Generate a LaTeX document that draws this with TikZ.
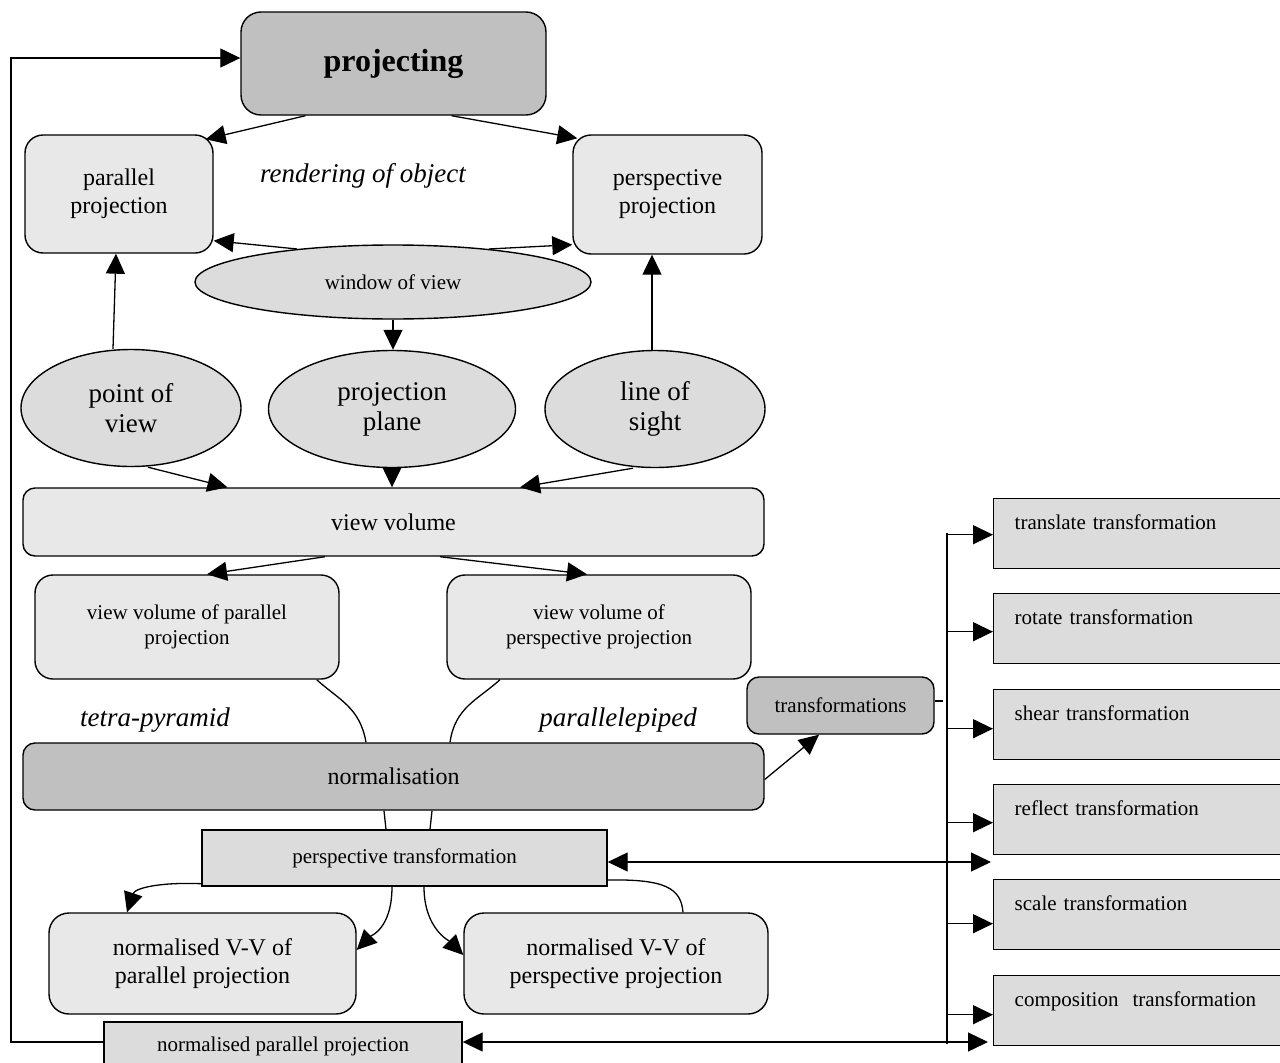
\documentclass[tikz,border=0pt]{standalone}
\usepackage{fontspec}
\setmainfont{Liberation Serif}
\usetikzlibrary{arrows.meta,shapes.geometric,calc}
\definecolor{dk}{HTML}{C0C0C0}
\definecolor{lt}{HTML}{E8E8E8}
\definecolor{md}{HTML}{DCDCDC}
\newcommand\fsa{\fontsize{21}{25}\selectfont}
\newcommand\fsb{\fontsize{24}{28}\selectfont}
\newcommand\fsc{\fontsize{27}{30}\selectfont}
\begin{document}
\begin{tikzpicture}[x=1pt,y=-1pt,
  rbox/.style={draw, line width=1.4pt, rounded corners=18pt, fill=lt, align=center, inner sep=0pt},
  dbox/.style={rbox, fill=dk},
  ebox/.style={ellipse, draw, line width=1.4pt, fill=md, align=center, inner sep=0pt},
  sbox/.style={rectangle, draw, line width=1.4pt, fill=md, align=center, inner sep=0pt},
  tbox/.style={sbox, minimum width=307pt, minimum height=70pt, text width=265pt, inner xsep=21pt, inner ysep=0pt, align=left, text height=15pt, text depth=23pt, anchor=north west, font=\fsa},
  lbl/.style={font=\fsc\itshape, inner sep=0pt},
  ln/.style={line width=1.3pt},
  arr/.style={ln, -{Triangle[length=20pt,width=19pt]}},
  darr/.style={ln, {Triangle[length=20pt,width=19pt]}-{Triangle[length=20pt,width=19pt]}}
]
\useasboundingbox (0,0) rectangle (1280,1063);

% nodes
\node[dbox, rounded corners=20pt, minimum width=305pt, minimum height=103pt, font=\fontsize{32}{36}\selectfont\bfseries] (proj) at (393.5,63.5) {projecting};
\node[rbox, minimum width=188pt, minimum height=118pt, font=\fsb] (par) at (119,194) {parallel\\projection};
\node[rbox, minimum width=189pt, minimum height=119pt, font=\fsb] (persp) at (667.5,194.5) {perspective\\projection};
\node[lbl] (render) at (363,176) {rendering of object};
\node[ebox, minimum width=396pt, minimum height=74pt, font=\fsa] (win) at (393,282) {window of view};
\node[ebox, minimum width=220pt, minimum height=117pt, font=\fsc] (pov) at (131,408) {point of\\view};
\node[ebox, minimum width=247pt, minimum height=117pt, font=\fsc] (plane) at (392,409) {projection\\plane};
\node[ebox, minimum width=220pt, minimum height=117pt, font=\fsc] (los) at (655,409) {line of\\sight};
\node[rbox, rounded corners=12pt, minimum width=741pt, minimum height=68pt, font=\fsb] (vv) at (393.5,522) {view volume};
\node[rbox, minimum width=304pt, minimum height=104pt, font=\fsa] (vvpar) at (187,627) {view volume of parallel\\projection};
\node[rbox, minimum width=304pt, minimum height=104pt, font=\fsa] (vvper) at (599,627) {view volume of\\perspective projection};
\node[lbl] (tetra) at (155,720) {tetra-pyramid};
\node[lbl] (ppd) at (618,720) {parallelepiped};
\node[dbox, rounded corners=12pt, minimum width=741pt, minimum height=67pt, font=\fsb] (norm) at (393.5,776.5) {normalisation};
\node[sbox, minimum width=405pt, minimum height=56pt, font=\fsa] (ptr) at (404.5,858) {perspective transformation};
\node[rbox, rounded corners=20pt, minimum width=307pt, minimum height=101pt, font=\fsb] (nvvpar) at (202.5,963.5) {normalised V-V of\\parallel projection};
\node[rbox, rounded corners=20pt, minimum width=304pt, minimum height=101pt, font=\fsb] (nvvper) at (616,963.5) {normalised V-V of\\perspective projection};
\node[sbox, minimum width=358pt, minimum height=48pt, font=\fsa] (npp) at (283,1046) {normalised parallel projection};
\node[dbox, rounded corners=12pt, minimum width=187pt, minimum height=57pt, font=\fsa] (trans) at (840.5,705.5) {transformations};

\node[tbox] (t1) at (993,498) {translate transformation};
\node[tbox] (t2) at (993,593) {rotate transformation};
\node[tbox] (t3) at (993,689) {shear transformation};
\node[tbox] (t4) at (993,784) {reflect transformation};
\node[tbox] (t5) at (993,879) {scale transformation};
\node[tbox] (t6) at (993,975) {composition\ \ transformation};

% coordinates
\coordinate (bustop) at (947,533);
\coordinate (busbot) at (947,1044);
\coordinate (dashend) at (943,701);
\coordinate (ptrend) at (991,862);
\coordinate (nppend) at (988,1042);
\coordinate (fbx) at (11,500);
\coordinate (a1) at ([yshift=-1pt]t1.west);
\coordinate (a2) at ([yshift=-3pt]t2.west);
\coordinate (a3) at ([yshift=-4pt]t3.west);
\coordinate (a4) at ([yshift=-3pt]t4.west);
\coordinate (a5) at ([yshift=-9pt]t5.west);
\coordinate (a6) at ([yshift=-4pt]t6.west);

% top connectors
\draw[arr] ([xshift=-88pt]proj.south) -- ([xshift=-8pt,yshift=-5pt]par.north east);
\draw[arr] ([xshift=58pt]proj.south) -- ([xshift=5pt,yshift=-4pt]persp.north west);
\draw[arr] (win.161) -- ([yshift=13pt]par.south east);
\draw[arr] (win.19) -- ([yshift=10pt]persp.south west);
\draw[arr] (win.south) -- (win.south |- plane.north);
\draw[arr] ([xshift=-18pt]pov.north) -- ([xshift=-3pt]par.south);
\draw[arr] ([xshift=-3pt]los.north) -- ([xshift=-15.5pt]persp.south);

% to view volume
\draw[arr] ([xshift=17pt]pov.south) -- ([xshift=-166pt]vv.north);
\draw[arr] (plane.south) -- (plane.south |- vv.north);
\draw[arr] ([xshift=-22pt]los.south) -- ([xshift=126.5pt]vv.north);
\draw[arr] ([xshift=-68.5pt]vv.south) -- ([xshift=20pt]vvpar.north);
\draw[arr] ([xshift=46.5pt]vv.south) -- ([xshift=-12pt]vvper.north);

% to normalisation
\draw[ln] ([xshift=-23pt]vvpar.south east) .. controls +(22,20) and +(-6,-35) .. ([xshift=-27.5pt]norm.north);
\draw[ln] ([xshift=-99pt]vvper.south) .. controls +(-22,20) and +(5,-35) .. ([xshift=56.5pt]norm.north);
\draw[ln] ([xshift=-9.5pt]norm.south) -- ([xshift=-18.5pt]ptr.north);
\draw[ln] ([xshift=38.5pt]norm.south) -- ([xshift=25.5pt]ptr.north);
\draw[arr] ([yshift=-3pt]norm.east) -- ([xshift=-21.5pt]trans.south);
\draw[ln] ([yshift=4.5pt]trans.east) -- (dashend);

% perspective transformation outputs
\draw[arr] ([yshift=3pt]ptr.south west) .. controls (160,882) and (135,888) .. ([xshift=-75.5pt]nvvpar.north);
\draw[arr] ([xshift=-12.5pt]ptr.south) .. controls +(0,42) and +(14,-14) .. ([yshift=13.5pt]nvvpar.east);
\draw[arr] ([xshift=19.5pt]ptr.south) .. controls +(0,42) and +(-14,-14) .. ([yshift=8.5pt]nvvper.west);
\draw[ln] ([yshift=-22pt]ptr.east) .. controls (665,879) and (681,888) .. ([xshift=67pt]nvvper.north);

% bus and branches
\draw[ln] (bustop) -- (busbot);
\draw[arr] (a1 -| bustop) -- (a1);
\draw[arr] (a2 -| bustop) -- (a2);
\draw[arr] (a3 -| bustop) -- (a3);
\draw[arr] (a4 -| bustop) -- (a4);
\draw[arr] (a5 -| bustop) -- (a5);
\draw[arr] (a6 -| bustop) -- (a6);

% long double arrows
\draw[darr] ([yshift=-4pt]ptr.east) -- (ptrend);
\draw[darr] ([yshift=4pt]npp.east) -- (nppend);

% feedback loop
\draw[arr] ([yshift=4pt]npp.west) -| (fbx) |- ([yshift=5.5pt]proj.west);
\end{tikzpicture}
\end{document}
